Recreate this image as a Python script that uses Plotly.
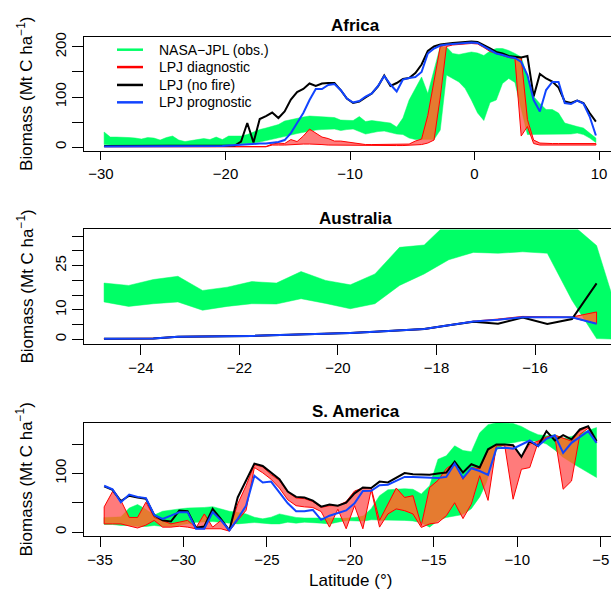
import numpy as np
import plotly.graph_objects as go

W, H = 611, 598
FONT = "Liberation Sans, Arial, Helvetica, sans-serif"
GREEN = "#00FF66"
RED_FILL = "#FF7B7B"
ORANGE = "#E57B30"
RED = "#FF0000"
BLUE = "#1144FF"
BLACK = "#000000"

# ---------------- Africa ----------------
afr_lat = np.arange(-29.75, 10.0, 0.5)
afr_obs_hi = [30, 20, 20, 20, 19, 18, 16, 19, 18, 14, 19, 22, 14, 11, 13, 15, 17, 15, 20, 15,
              22, 22, 22, 25, 30, 35, 38, 42, 45, 52, 55, 58, 60, 62, 61, 61, 60, 59,
              54, 53, 53, 61, 51, 53, 51, 50, 48, 40, 58, 94, 117, 140, 107, 154, 201, 200, 187, 185, 188, 190,
              188, 183, 192, 197, 197, 193, 187, 180, 140, 101, 87, 75, 75, 68, 48, 44, 41, 38, 28, 18]
afr_obs_lo = [5, 4, 4, 4, 4, 4, 4, 4, 4, 4, 4, 3, 3, 3, 2, 2, 1, 1, 1, 2,
              3, 5, 6, 7, 8, 10, 12, 15, 18, 21, 24, 27, 30, 32, 34, 35, 36, 36,
              33, 35, 36, 31, 26, 29, 31, 32, 29, 26, 25, 18, 15, 15, 15, 15, 34, 144, 137, 130, 117, 94,
              68, 53, 89, 94, 127, 137, 129, 74, 25, 25, 26, 25, 25, 25, 26, 26, 28, 25, 18, 9]
afr_diag_hi = [1] * 27 + [6, 8, 7, 15, 11, 22, 36, 28, 20, 17, 12,
               12, 10, 8, 6, 5, 5, 5, 5, 5, 5, 5, 6, 12, 16, 63, 134, 201, 205, 206, 207, 208, 209,
               208, 202, 195, 189, 186, 181, 179, 179, 55, 14, 8, 7, 7, 7, 7, 7, 7, 7, 7, 7]
afr_diag_lo = [0.5] * 27 + [4, 4, 4, 5, 5, 6, 6, 6, 5, 4, 3,
               3, 3, 3, 3, 3, 3, 3, 3, 3, 3, 3, 3, 4, 5, 8, 14, 100, 201, 204, 205, 206, 207,
               206, 199, 191, 186, 183, 179, 177, 22, 41, 7, 4, 4, 4, 4, 4, 4, 4, 4, 4, 4]
afr_nofire = [2] * 21 + [3, 11, 48, 9, 56, 62, 69, 58, 71, 95, 110, 116, 127, 122, 127, 128, 128,
              114, 97, 88, 91, 99, 107, 121, 143, 122, 128, 136, 138, 148, 165, 192, 201, 205, 207, 208, 209, 210, 211,
              210, 204, 197, 190, 187, 182, 180, 179, 182, 101, 146, 137, 131, 119, 91, 88, 93, 88, 68, 51]
afr_prog = [1] * 18 + [2, 2, 3, 4, 5, 6, 6, 7, 7, 8, 10, 14, 28, 48, 68, 94, 116, 116, 124, 126,
            114, 97, 89, 92, 101, 107, 122, 142, 125, 111, 135, 138, 140, 150, 187, 197, 203, 205, 206, 207, 208, 209,
            208, 201, 193, 187, 184, 180, 178, 170, 144, 94, 71, 114, 130, 130, 88, 86, 93, 87, 61, 23]

# ---------------- Australia ----------------
aus_lat = np.arange(-24.75, -14.5, 0.5)
aus_obs_lat = np.arange(-24.75, -14.0, 0.5)
aus_obs_hi = [19.1, 18.3, 20.3, 21.4, 16.6, 17.7, 19.6, 19.1, 23.0, 20.0, 18.5, 22.2, 31.2, 32.0,
              40, 42, 42, 42, 41, 39, 31.8, 5]
aus_obs_lo = [12.7, 11.2, 12.1, 12.7, 9.9, 11.2, 12.1, 12.0, 13.8, 12.2, 10.4, 12.1, 18.3, 22.2,
              27.0, 29.5, 29.2, 29.7, 29.2, 13.3, 0.3, 0]
aus_diag_hi = [0.3, 0.3, 0.4, 1.0, 1.0, 1.2, 1.3, 1.5, 1.8, 2.1, 2.3, 2.7, 3.2, 3.6, 4.9, 6.2, 6.9,
               7.8, 7.7, 7.6, 9.3]
aus_diag_lo = [0.1, 0.1, 0.2, 0.8, 0.8, 1.0, 1.1, 1.3, 1.6, 1.9, 2.1, 2.5, 3.0, 3.4, 4.7, 6.0, 6.6,
               7.4, 7.4, 7.4, 5.3]
aus_nofire = [0.2, 0.2, 0.3, 0.9, 0.9, 1.1, 1.2, 1.4, 1.7, 2.0, 2.2, 2.6, 3.1, 3.5, 4.8, 6.0, 5.3,
              7.4, 5.2, 6.9, 19.0]
aus_prog = [0.2, 0.2, 0.3, 0.9, 0.9, 1.1, 1.2, 1.4, 1.7, 2.0, 2.2, 2.6, 3.1, 3.5, 4.8, 6.1, 6.7,
            7.5, 7.5, 7.5, 5.3]

# ---------------- S. America ----------------
sam_lat = np.arange(-34.75, -5.0, 0.5)
sam_obs_hi = [25, 25, 26, 41, 47, 39, 29, 35.5, 37.8, 39.5, 41, 41, 42, 43.4, 39.5, 35.5, 33.9, 31, 25.4, 22.6, 25.4,
              31, 28, 25, 24, 24, 24, 24, 23, 24, 25, 27, 40, 62, 72, 73, 74, 73, 65, 79, 124,
              130, 147, 139, 137, 169, 183, 186, 186, 185, 180, 172, 166, 164, 166, 160, 163, 168, 172, 178]
sam_obs_lo = [13, 13, 11.3, 11.3, 9.6, 9.6, 11.3, 9.6, 9.6, 10.7, 14, 16.9, 16.9, 18, 16.9, 15.3, 14, 15.3, 16.3, 15.3, 14,
              14, 16.9, 15.3, 16.9, 16.3, 15.3, 14, 16.9, 19.7, 19.7, 18.6, 20.9, 20, 20, 20, 20, 19, 16, 8.5, 20,
              25, 28, 30, 40, 60, 90, 140, 150, 152, 155, 155, 155, 150, 140, 127, 118, 110, 101, 93]
sam_diag_hi = [43, 69, 54, 25, 25, 51, 25, 20, 14, 17, 20, 7.4, 31, 8.5, 20, 3, 48, 79, 115, 111, 98,
               88, 68, 58, 57, 52, 42, 45, 45, 52, 70, 75, 75, 20, 48, 75, 59, 62, 11.3, 76, 88,
               108, 118, 90, 110, 108, 140, 149, 149, 148, 128, 150, 155, 162, 165, 160, 155, 172, 180, 155]
sam_diag_lo = [14, 14, 14, 10, 7, 12, 20, 8.5, 8.5, 10, 8.5, 5.7, 5.7, 5.7, 5.7, 1.7, 20, 37, 110, 101, 90,
               75, 55, 45, 43, 42, 35, 8.5, 39, 5.7, 45, 5.7, 72, 8.5, 31, 39.5, 36.6, 31, 8, 14, 16,
               28, 50, 23, 48, 96, 54, 147, 147, 56, 107, 110, 153, 160, 163, 73, 87, 166, 177, 153]
sam_nofire = [78, 72, 53, 62, 59, 57, 29, 20, 18, 36.6, 35.5, 7.4, 9.6, 39.5, 22, 3, 59, 87, 116.7, 112.7, 101.5,
              90, 69, 60, 59, 53.6, 43.4, 47, 45, 50, 66, 76, 75, 86, 84.6, 92, 100.5, 98.7, 97.5, 97.5, 99.8,
              101.5, 120, 101.5, 115.6, 110, 141, 149.4, 149.4, 148, 128, 155, 146.6, 172, 156, 165, 158, 174.8, 180.4, 155]
sam_prog = [79, 73, 51, 64, 60, 58, 29, 22.6, 28, 34, 34, 5.7, 5.7, 34, 20, 3, 22.6, 45, 96, 84.6, 86,
            67.6, 49, 35.5, 35.5, 37.8, 20.9, 28, 33, 37, 49, 70, 70.5, 80, 80.6, 87, 94, 94, 93, 92, 92,
            94, 116.7, 92, 108.8, 104, 97.5, 142.6, 143.7, 142, 149.4, 156, 146.6, 159, 165, 135, 152, 161.7, 172, 152]

legend_labels = ["NASA\u2212JPL (obs.)", "LPJ diagnostic", "LPJ (no fire)", "LPJ prognostic"]
legend_colors = [GREEN, RED, BLACK, BLUE]

panel_titles = ["Africa", "Australia", "S. America"]
x_ticks = [[-30, -20, -10, 0, 10], [-24, -22, -20, -18, -16], [-35, -30, -25, -20, -15, -10, -5]]
y_ticks = [[0, 100, 200], [0, 10, 25], [0, 100]]
y_minor_ticks = [[50, 150], [5, 15, 20, 30, 35], [50, 150]]


def band_poly(x, lo, hi):
    x = list(np.asarray(x, float))
    return x + x[::-1] + [x[0]], list(hi) + list(lo)[::-1] + [hi[0]]


def overlap_poly(xa, a_lo, a_hi, xb, b_lo, b_hi, n=16):
    xa = np.asarray(xa, float); xb = np.asarray(xb, float)
    x0, x1 = max(xa[0], xb[0]), min(xa[-1], xb[-1])
    knots = np.unique(np.concatenate([xa, xb]))
    knots = knots[(knots >= x0) & (knots <= x1)]
    xf = np.concatenate([np.linspace(knots[i], knots[i + 1], n, endpoint=False)
                         for i in range(len(knots) - 1)] + [knots[-1:]])
    lo = np.maximum(np.interp(xf, xa, a_lo), np.interp(xf, xb, b_lo))
    hi = np.minimum(np.interp(xf, xa, a_hi), np.interp(xf, xb, b_hi))
    ok = hi > lo
    xs, ys = [], []
    i = 0
    while i < len(xf):
        if ok[i]:
            j = i
            while j < len(xf) and ok[j]:
                j += 1
            sx = list(xf[i:j]); sh = list(hi[i:j]); sl = list(lo[i:j])
            xs += sx + sx[::-1] + [sx[0], None]
            ys += sh + sl[::-1] + [sh[0], None]
            i = j
        else:
            i += 1
    return xs, ys


fig = go.Figure()

panels = [
    (afr_lat, afr_lat, afr_obs_lo, afr_obs_hi, afr_diag_lo, afr_diag_hi, afr_nofire, afr_prog),
    (aus_lat, aus_obs_lat, aus_obs_lo, aus_obs_hi, aus_diag_lo, aus_diag_hi, aus_nofire, aus_prog),
    (sam_lat, sam_lat, sam_obs_lo, sam_obs_hi, sam_diag_lo, sam_diag_hi, sam_nofire, sam_prog),
]

for k, (lat, olat, olo, ohi, dlo, dhi, nf, pr) in enumerate(panels):
    xa = "x" if k == 0 else f"x{k+1}"
    ya = "y" if k == 0 else f"y{k+1}"
    gx, gy = band_poly(olat, olo, ohi)
    fig.add_trace(go.Scatter(x=gx, y=gy, xaxis=xa, yaxis=ya, mode="lines", fill="toself",
                             fillcolor=GREEN, line=dict(color=GREEN, width=0.5), hoverinfo="skip"))
    rx, ry = band_poly(lat, dlo, dhi)
    fig.add_trace(go.Scatter(x=rx, y=ry, xaxis=xa, yaxis=ya, mode="lines", fill="toself",
                             fillcolor=RED_FILL, line=dict(color=RED_FILL, width=0), hoverinfo="skip"))
    ox, oy = overlap_poly(olat, olo, ohi, lat, dlo, dhi)
    fig.add_trace(go.Scatter(x=ox, y=oy, xaxis=xa, yaxis=ya, mode="lines", fill="toself",
                             fillcolor=ORANGE, line=dict(color=ORANGE, width=0.3), hoverinfo="skip"))
    fig.add_trace(go.Scatter(x=rx, y=ry, xaxis=xa, yaxis=ya, mode="lines",
                             line=dict(color=RED, width=1), hoverinfo="skip"))
    fig.add_trace(go.Scatter(x=lat, y=nf, xaxis=xa, yaxis=ya, mode="lines",
                             line=dict(color=BLACK, width=2), hoverinfo="skip"))
    fig.add_trace(go.Scatter(x=lat, y=pr, xaxis=xa, yaxis=ya, mode="lines",
                             line=dict(color=BLUE, width=2), hoverinfo="skip"))

# layout geometry (pixels)
box_top = [33, 227, 421.7]
box_bot = [148, 342, 535.7]
x_ranges = [[-31.365, 10.964], [-25.157, -14.457], [-35.959, -4.383]]
y_ranges = [[-7.9, 220.4], [-1.45, 37.26], [-6.8, 186.0]]
x_left = 84

layout = dict(width=W, height=H, margin=dict(l=0, r=0, t=0, b=0),
              paper_bgcolor="white", plot_bgcolor="white", showlegend=False,
              font=dict(family=FONT, size=15, color="black"))
annotations = []
shapes = []
for k in range(3):
    sx = "" if k == 0 else str(k + 1)
    dom_y = [1 - box_bot[k] / H, 1 - box_top[k] / H]
    layout["xaxis" + sx] = dict(domain=[x_left / W, 1], anchor="y" + sx, range=x_ranges[k],
                                showline=True, mirror=True, linecolor="black", linewidth=1,
                                ticks="outside", ticklen=8 if k == 0 else 10, tickwidth=1, tickcolor="black",
                                tickvals=x_ticks[k],
                                ticktext=[("\u2212" + str(-v)) if v < 0 else str(v) for v in x_ticks[k]],
                                showgrid=False, zeroline=False, tickfont=dict(size=15),
                                ticklabelstandoff=1 if k == 0 else 0)
    layout["yaxis" + sx] = dict(domain=dom_y, anchor="x" + sx, range=y_ranges[k],
                                showline=True, mirror=False, linecolor="black", linewidth=1,
                                ticks="outside", ticklen=11, tickwidth=1, tickcolor="black",
                                tickvals=y_ticks[k], ticktext=[str(v) for v in y_ticks[k]], tickangle=-90,
                                minor=dict(tickmode="array", tickvals=y_minor_ticks[k], ticks="outside",
                                           ticklen=11, tickwidth=1, tickcolor="black", showgrid=False),
                                showgrid=False, zeroline=False, tickfont=dict(size=15))
    annotations.append(dict(text="<b>%s</b>" % panel_titles[k], xref="paper", yref="paper",
                            x=355.5 / W, y=1 - (box_top[k] - 11) / H, xanchor="center", yanchor="middle",
                            showarrow=False, font=dict(size=17, family=FONT)))
    annotations.append(dict(text="Biomass (Mt C ha<sup>\u22121</sup>)", xref="paper", yref="paper",
                            x=25 / W, y=1 - (box_top[k] + box_bot[k]) / 2 / H, xanchor="center",
                            yanchor="middle", textangle=-90, showarrow=False, font=dict(size=17, family=FONT)))

annotations.append(dict(text="Latitude (\u00b0)", xref="paper", yref="paper", x=350 / W, y=1 - 580 / H,
                        xanchor="center", yanchor="middle", showarrow=False, font=dict(size=17, family=FONT)))

legend_rows = [46, 63.5, 81.5, 99]
for lab, col, ry in zip(legend_labels, legend_colors, legend_rows):
    shapes.append(dict(type="line", xref="paper", yref="paper", x0=117 / W, x1=143 / W,
                       y0=1 - ry / H, y1=1 - ry / H, line=dict(color=col, width=2.5)))
    annotations.append(dict(text=lab, xref="paper", yref="paper", x=157 / W, y=1 - ry / H,
                            xanchor="left", yanchor="middle", showarrow=False, font=dict(size=14, family=FONT)))

layout["annotations"] = annotations
layout["shapes"] = shapes
fig.update_layout(**layout)
fig.write_html("out.html", config={"displayModeBar": False},
               post_script="document.body.style.margin='0';document.body.style.overflow='hidden';")
